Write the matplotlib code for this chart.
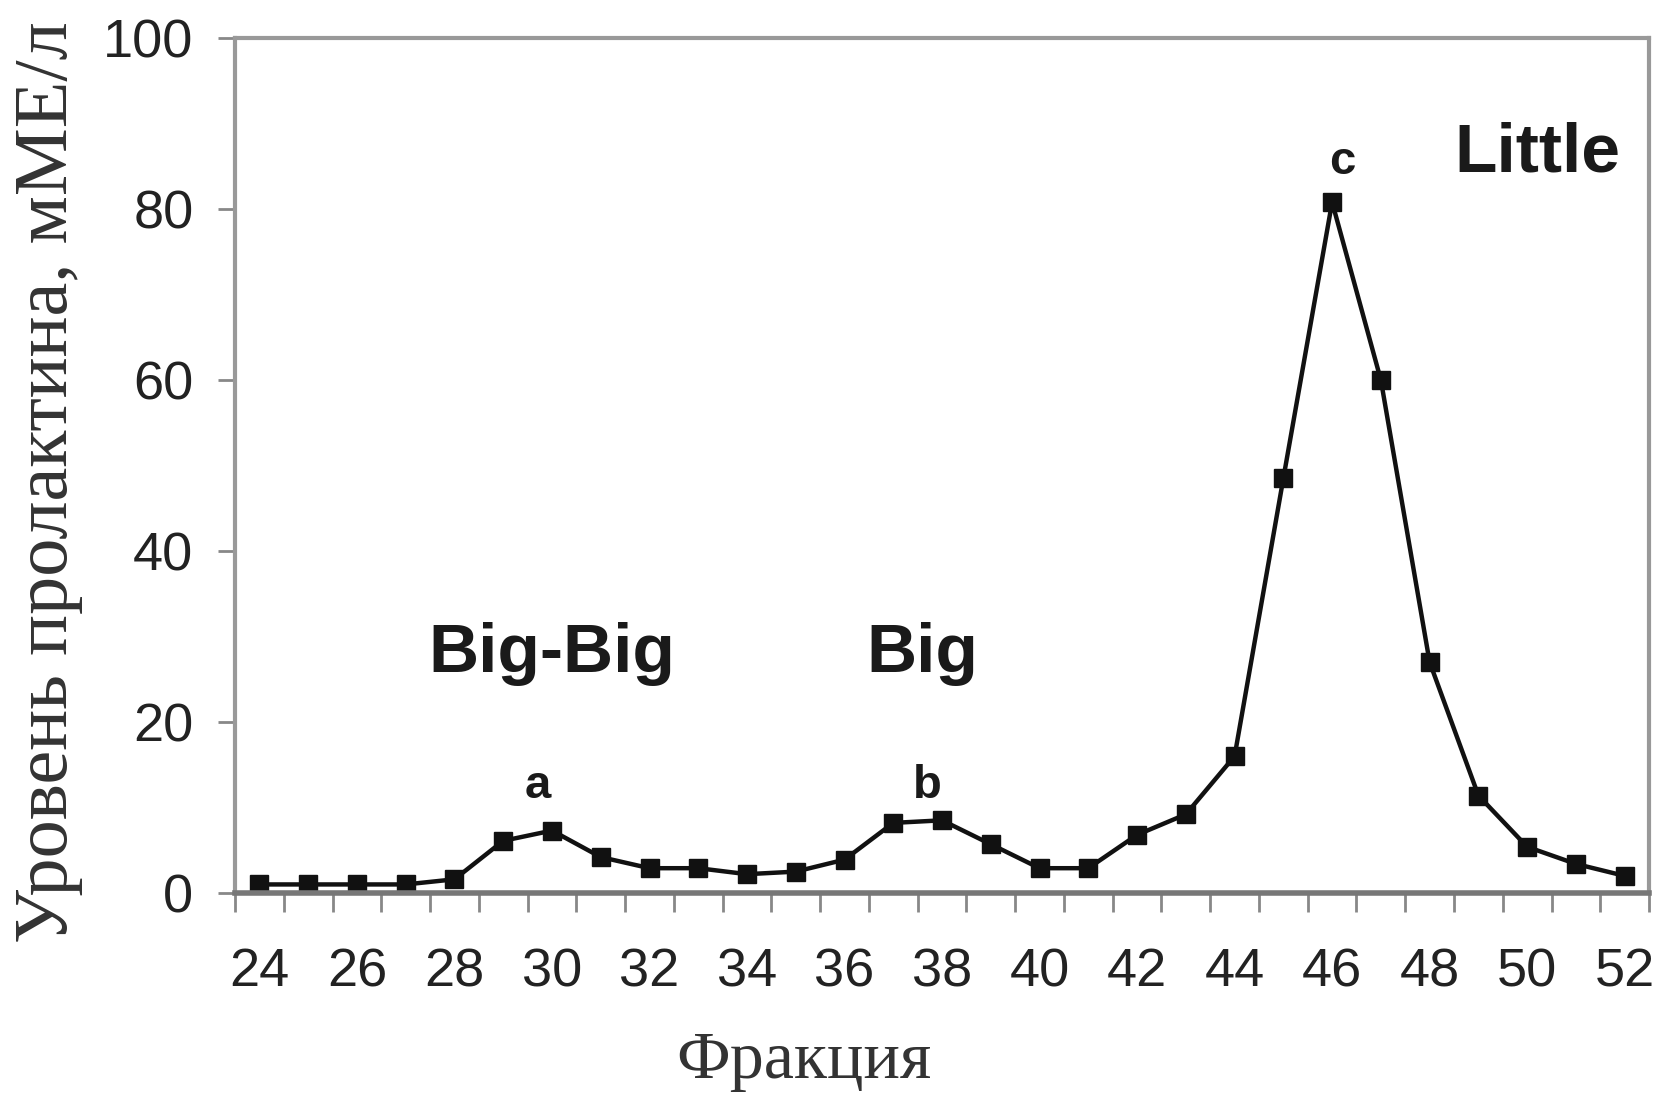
import matplotlib
matplotlib.use("Agg")
import matplotlib.pyplot as plt
import numpy as np

# fractions and prolactin level (mIU/l)
fractions = list(range(24, 53))
prolactin = [1.0, 1.0, 1.0, 1.0, 1.6, 6.1, 7.3, 4.2, 2.9, 2.9, 2.2, 2.5, 3.9, 8.2, 8.5,
             5.7, 2.9, 2.9, 6.8, 9.2, 16.0, 48.5, 80.8, 60.0, 27.0, 11.4, 5.4, 3.4, 2.0]
xtick_labels = list(range(24, 53, 2))
yticks = [0, 20, 40, 60, 80, 100]

# peak annotations: (text, x, y, size)
peak_names = [("Big-Big", 30.0, 28, 50), ("Big", 37.6, 28, 50), ("Little", 50.2, 86.5, 50)]
peak_letters = [("a", 29.7, 12.5), ("b", 37.7, 12.5), ("c", 46.2, 85.5)]

sans = ['Liberation Sans Narrow', 'Liberation Sans', 'DejaVu Sans']
serif = ['Liberation Serif', 'DejaVu Serif']

fig = plt.figure(figsize=(16.6, 11.03), dpi=100)
ax = fig.add_axes([0.1416, 0.1904, 0.9934 - 0.1416, 0.9655 - 0.1904])

ax.plot(fractions, prolactin, color='#111111', lw=3.2, marker='s', ms=13.5,
        mfc='#111111', mec='#111111')

ax.set_xlim(23.5, 52.5)
ax.set_ylim(0, 100)

# category style axis: tick marks between points, labels under points
ax.set_xticks(xtick_labels)
ax.set_xticklabels([str(v) for v in xtick_labels], family=sans, fontsize=39, color='#222222')
ax.set_xticks(np.arange(23.5, 53, 1), minor=True)
ax.tick_params(axis='x', which='major', length=0, pad=39)
ax.tick_params(axis='x', which='minor', length=14, width=2, color='#888888', direction='out')

ax.set_yticks(yticks)
ax.set_yticklabels([str(v) for v in yticks], family=sans, fontsize=39, color='#222222')
ax.tick_params(axis='y', length=12, width=2, color='#888888', pad=18)

for side in ['top', 'right', 'left']:
    ax.spines[side].set_color('#999999')
    ax.spines[side].set_linewidth(3)
ax.spines['bottom'].set_color('#777777')
ax.spines['bottom'].set_linewidth(4)

for txt, x, y, s in peak_names:
    ax.text(x, y, txt, ha='center', va='center', fontsize=s, fontweight='bold',
            family=['Liberation Sans', 'DejaVu Sans'], color='#1a1a1a')
for txt, x, y in peak_letters:
    ax.text(x, y, txt, ha='center', va='center', fontsize=34, fontweight='bold',
            family=['Liberation Sans', 'DejaVu Sans'], color='#1a1a1a')

fig.text(0.029, 0.563, 'Уровень пролактина, мМЕ/л', rotation=90, ha='center', va='center',
         family=serif, fontsize=55, color='#333333')
fig.text(0.484, 0.038, 'Фракция', ha='center', va='center', family=serif,
         fontsize=49, color='#333333')

fig.savefig('out.png', dpi=100, facecolor='white')
